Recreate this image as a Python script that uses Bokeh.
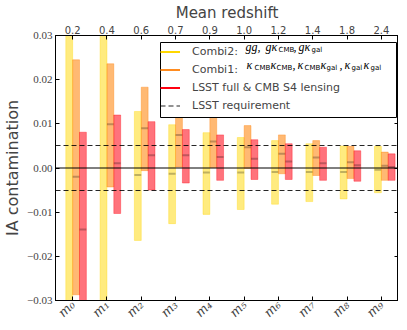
import math
from bokeh.plotting import figure
from bokeh.models import (Range1d, LinearAxis, FixedTicker, Legend, LegendItem, Label, Span,
                          BoxAnnotation)
from bokeh.embed import file_html
from bokeh.resources import INLINE

# ---------------- data ----------------
bins = ["m₀", "m₁", "m₂", "m₃", "m₄", "m₅", "m₆", "m₇", "m₈", "m₉"]
redshift = ["0.2", "0.4", "0.6", "0.7", "0.9", "1.0", "1.2", "1.4", "1.8", "2.4"]
y_ticks = [-0.03, -0.02, -0.01, 0.0, 0.01, 0.02, 0.03]
y_tick_labels = ["−0.03", "−0.02", "−0.01", "0.00", "0.01", "0.02", "0.03"]

combi2_hi = [0.040, 0.035, 0.0128, 0.0098, 0.0080, 0.0069, 0.0062, 0.0055, 0.0050, 0.0049]
combi2_mid = [-0.035, -0.032, -0.0016, -0.0013, -0.0010, -0.0010, -0.0009, -0.0009, -0.0009, -0.0004]
combi2_lo = [-0.110, -0.099, -0.0164, -0.0126, -0.0105, -0.0094, -0.0082, -0.0076, -0.0070, -0.0056]

combi1_hi = [0.0245, 0.0236, 0.0183, 0.0148, 0.0119, 0.0096, 0.0075, 0.0062, 0.0049, 0.0036]
combi1_mid = [-0.0020, 0.0099, 0.0090, 0.0075, 0.0060, 0.0047, 0.0032, 0.0024, 0.0013, 0.0005]
combi1_lo = [-0.0287, -0.0043, -0.0006, 0.0002, 0.0001, -0.0001, -0.0013, -0.0017, -0.0024, -0.0028]

s4_hi = [0.0081, 0.0120, 0.0105, 0.0087, 0.0075, 0.0064, 0.0055, 0.0047, 0.0039, 0.0032]
s4_mid = [-0.0139, 0.0011, 0.0029, 0.0029, 0.0025, 0.0021, 0.0015, 0.0011, 0.0006, 0.0002]
s4_lo = [-0.0360, -0.0103, -0.0050, -0.0034, -0.0028, -0.0026, -0.0026, -0.0028, -0.0030, -0.0028]

requirement = [0.005, -0.005]

# ---------------- figure ----------------
FW, FH = 343, 265
X0, X1, Y0, Y1 = -0.5, 9.5, -0.03, 0.03
p = figure(frame_width=FW, frame_height=FH,
           x_range=Range1d(X0, X1), y_range=Range1d(Y0, Y1),
           output_backend="svg", toolbar_location=None,
           min_border_left=50, min_border_right=0, min_border_top=32, min_border_bottom=24)
p.xgrid.visible = False
p.ygrid.visible = False
p.outline_line_color = "black"
p.outline_line_alpha = 1
p.background_fill_color = "white"
p.border_fill_color = "white"

def style_axis(ax):
    ax.axis_line_color = "black"
    ax.major_tick_line_color = "black"
    ax.major_tick_in = 4
    ax.major_tick_out = 0
    ax.minor_tick_line_color = None
    ax.axis_label_text_font_style = "normal"

idx = list(range(len(bins)))

# bottom axis
xb = p.xaxis[0]
style_axis(xb)
xb.ticker = FixedTicker(ticks=idx)
xb.major_label_overrides = {i: bins[i] for i in idx}
xb.major_label_orientation = math.pi / 4
xb.major_label_text_font = "DejaVu Serif"
xb.major_label_text_font_style = "italic"
xb.major_label_text_font_size = "13px"
xb.major_label_standoff = 2

# left axis
yl = p.yaxis[0]
style_axis(yl)
yl.ticker = FixedTicker(ticks=y_ticks)
yl.major_label_overrides = {t: s for t, s in zip(y_ticks, y_tick_labels)}
yl.major_label_text_font = "Liberation Serif"
yl.major_label_text_font_size = "11px"
yl.major_label_standoff = 3
yl.axis_label = "IA contamination"
yl.axis_label_text_font = "DejaVu Sans"
yl.axis_label_text_font_size = "16px"
yl.axis_label_standoff = 2

# top axis
xt = LinearAxis(ticker=FixedTicker(ticks=idx),
                major_label_overrides={i: redshift[i] for i in idx},
                axis_label="Mean redshift")
style_axis(xt)
xt.major_label_text_font = "DejaVu Sans"
xt.major_label_text_font_size = "10px"
xt.major_label_standoff = 2
xt.axis_label_text_font = "DejaVu Sans"
xt.axis_label_text_font_size = "15px"
xt.axis_label_standoff = 1
p.add_layout(xt, "above")

# right axis (ticks only)
yr = LinearAxis(ticker=FixedTicker(ticks=y_ticks))
style_axis(yr)
yr.major_label_text_font_size = "1px"
yr.major_label_text_color = None
yr.major_label_standoff = 0
p.add_layout(yr, "right")

# ---------------- bars ----------------
series = [
    (combi2_lo, combi2_mid, combi2_hi, -0.1, "#FFD700", 0.5, "#FFD700"),
    (combi1_lo, combi1_mid, combi1_hi, 0.1, "#FF7F00", 0.55, "#FF8C20"),
    (s4_lo, s4_mid, s4_hi, 0.3, "#FF0010", 0.55, "#FF0010"),
]
nan = float("nan")
proxies = []
for lo, mid, hi, off, col, alpha, lcol in series:
    xs = [i + off for i in idx]
    p.vbar(x=xs, width=0.2, bottom=lo, top=hi, fill_color=col, fill_alpha=alpha,
           line_color=col, line_alpha=0.35, line_width=1)
    p.segment(x0=[x - 0.1 for x in xs], x1=[x + 0.1 for x in xs], y0=mid, y1=mid,
              line_color="black", line_alpha=0.25, line_width=2)
    proxies.append(p.line(x=[nan], y=[nan], line_color=lcol, line_width=2))

p.add_layout(Span(location=0, dimension="width", line_color="black", line_width=1))
p.hspan(y=requirement, line_color="black", line_dash="5 3", line_width=1.2, line_alpha=0.85)
req_proxy = p.line(x=[nan], y=[nan], line_color="black", line_dash="5 3", line_width=1.2,
                   line_alpha=0.85)

# ---------------- legend ----------------
LW, LH = 236, 75
lx, ly = FW - 2 - LW, FH - 7 - LH
SHIFT = 5   # legend rows sit a little higher in the box

def px_to_data(sx, sy_up):
    return X0 + sx / FW * (X1 - X0), Y0 + sy_up / FH * (Y1 - Y0)

# white legend box drawn as an annotation, the Legend itself is transparent
bx0, by0 = px_to_data(lx, ly)
bx1, by1 = px_to_data(lx + LW, ly + LH)
p.add_layout(BoxAnnotation(left=bx0, right=bx1, bottom=by0, top=by1,
                           fill_color="white", fill_alpha=1,
                           line_color="black", line_width=1, line_alpha=1))

legend = Legend(items=[
    LegendItem(label="Combi2:", renderers=[proxies[0]]),
    LegendItem(label="Combi1:", renderers=[proxies[1]]),
    LegendItem(label="LSST full & CMB S4 lensing", renderers=[proxies[2]]),
    LegendItem(label="LSST requirement", renderers=[req_proxy]),
], location=(lx, ly + SHIFT))
legend.label_text_font = "DejaVu Sans"
legend.label_text_font_size = "11px"
legend.glyph_width = 20
legend.glyph_height = 13
legend.label_height = 13
legend.label_standoff = 12
legend.spacing = 5
legend.padding = 5
legend.margin = 0
legend.label_width = LW - 10 - 20 - 12
legend.border_line_color = None
legend.background_fill_alpha = 0
p.add_layout(legend)

# math parts of legend labels (x in pixels relative to the legend box left edge)
row1 = [("gg,", 85, "m"), ("gκ", 105, "m"), ("CMB", 118, "s"), (",", 133, "m"),
        ("gκ", 138, "m"), ("gal", 151, "s")]
row2 = [("κ", 86, "m"), ("CMB", 94, "s"), ("κ", 110, "m"), ("CMB", 116, "s"), (",", 132, "m"),
        ("κ", 137, "m"), ("CMB", 144, "s"), ("κ", 160, "m"), ("gal", 166, "s"), (",", 179, "m"),
        ("κ", 184, "m"), ("gal", 191, "s"), ("κ", 203, "m"), ("gal", 210, "s")]
for r, pieces in enumerate([row1, row2]):
    yc = ly + SHIFT + 77 - (5 + 6.5 + r * 18)
    for txt, dx, kind in pieces:
        if kind == "m":
            xd, yd = px_to_data(lx + dx, yc)
            lab = Label(x=xd, y=yd, text=txt, text_color="black",
                        text_font="Liberation Serif", text_font_style="italic",
                        text_font_size="12px", text_baseline="middle", text_align="left")
        else:
            xd, yd = px_to_data(lx + dx, yc - 2.5)
            lab = Label(x=xd, y=yd, text=txt, text_color="black",
                        text_font="DejaVu Sans", text_font_size="7px",
                        text_baseline="middle", text_align="left")
        p.add_layout(lab)

open("out.html", "w").write(file_html(p, INLINE))
